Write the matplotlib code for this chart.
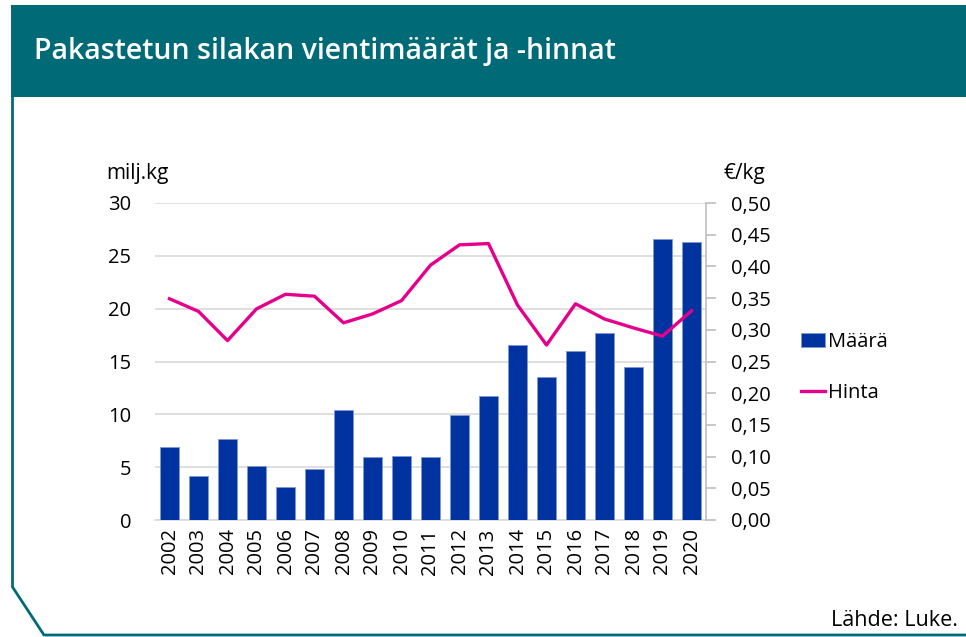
import matplotlib
matplotlib.use("Agg")
import numpy as np
import matplotlib.pyplot as plt
from matplotlib.lines import Line2D
from matplotlib.patches import Rectangle

plt.rcParams["font.family"] = ["Open Sans", "DejaVu Sans"]

years = ["2002", "2003", "2004", "2005", "2006", "2007", "2008", "2009", "2010", "2011",
         "2012", "2013", "2014", "2015", "2016", "2017", "2018", "2019", "2020"]
maara = [6.9, 4.2, 7.7, 5.1, 3.1, 4.8, 10.4, 6.0, 6.05, 6.0,
         9.9, 11.7, 16.6, 13.5, 16.0, 17.7, 14.5, 26.6, 26.3]
hinta = [0.349, 0.329, 0.283, 0.333, 0.356, 0.353, 0.311, 0.325, 0.346, 0.402,
         0.434, 0.436, 0.339, 0.276, 0.341, 0.317, 0.303, 0.290, 0.330]

left_ticks = [0, 5, 10, 15, 20, 25, 30]
right_ticks = [0.0, 0.05, 0.10, 0.15, 0.20, 0.25, 0.30, 0.35, 0.40, 0.45, 0.50]

teal = "#006b77"
bar_col = "#0033a0"
line_col = "#e5008c"

W, H = 966, 637
fig = plt.figure(figsize=(W / 100, H / 100), dpi=100)

def fx(px):
    return px / W

def fy(py):
    return 1 - py / H

# header banner and frame
fig.add_artist(Rectangle((fx(11), fy(97)), 1 - fx(11), fy(5) - fy(97),
                         transform=fig.transFigure, color=teal, lw=0))
fig.text(fx(34), fy(51), "Pakastetun silakan vientimäärät ja -hinnat",
         color="white", fontsize=20.5, fontweight="semibold", va="center")
fig.add_artist(Line2D([fx(12.5), fx(12.5), fx(44), 1], [fy(97), fy(587), fy(635), fy(635)],
                      transform=fig.transFigure, color=teal, lw=2))

ax = fig.add_axes([fx(155), fy(520), fx(706) - fx(155), fy(203) - fy(520)])
x = np.arange(len(years))
ax.bar(x, maara, width=0.63, color=bar_col, edgecolor="#7f9ad0", linewidth=0.6,
       label="Määrä", zorder=3)
ax.set_xlim(-0.5, len(years) - 0.5)
ax.set_ylim(0, 30)
ax.set_yticks(left_ticks)
ax.set_yticklabels([str(t) for t in left_ticks], fontsize=14.5)
ax.set_xticks(x)
ax.set_xticklabels(years, rotation=90, fontsize=14.5)
ax.tick_params(axis="both", length=0, pad=6)
ax.tick_params(axis="y", pad=17)
ax.grid(axis="y", color="#d9d9d9", lw=1.2, zorder=0)
for s in ["top", "left", "right"]:
    ax.spines[s].set_visible(False)
ax.spines["bottom"].set_color("#d9d9d9")
ax.spines["bottom"].set_linewidth(1.2)

ax2 = ax.twinx()
ax2.plot(x, hinta, color=line_col, lw=2.4, label="Hinta", zorder=4)
ax2.set_ylim(0, 0.5)
ax2.set_yticks(right_ticks)
ax2.set_yticklabels([f"{t:.2f}".replace(".", ",") for t in right_ticks], fontsize=14.5)
ax2.tick_params(axis="y", length=7, width=1.2, color="#bfbfbf", pad=11)
for s in ["top", "left", "bottom"]:
    ax2.spines[s].set_visible(False)
ax2.spines["right"].set_color("#bfbfbf")
ax2.spines["right"].set_linewidth(1.2)

fig.text(fx(106), fy(174), "milj.kg", fontsize=15, va="center")
fig.text(fx(724), fy(174), "€/kg", fontsize=15, va="center")

h1, l1 = ax.get_legend_handles_labels()
h2, l2 = ax2.get_legend_handles_labels()
fig.legend(h1 + h2, l1 + l2, loc="upper left", bbox_to_anchor=(fx(783), fy(314)),
           frameon=False, fontsize=14.5, handlelength=1.2, handletextpad=0.15,
           labelspacing=1.55)

fig.text(fx(958), fy(620), "Lähde: Luke.", fontsize=15.5, ha="right", va="center")

fig.savefig("out.png", dpi=100)
